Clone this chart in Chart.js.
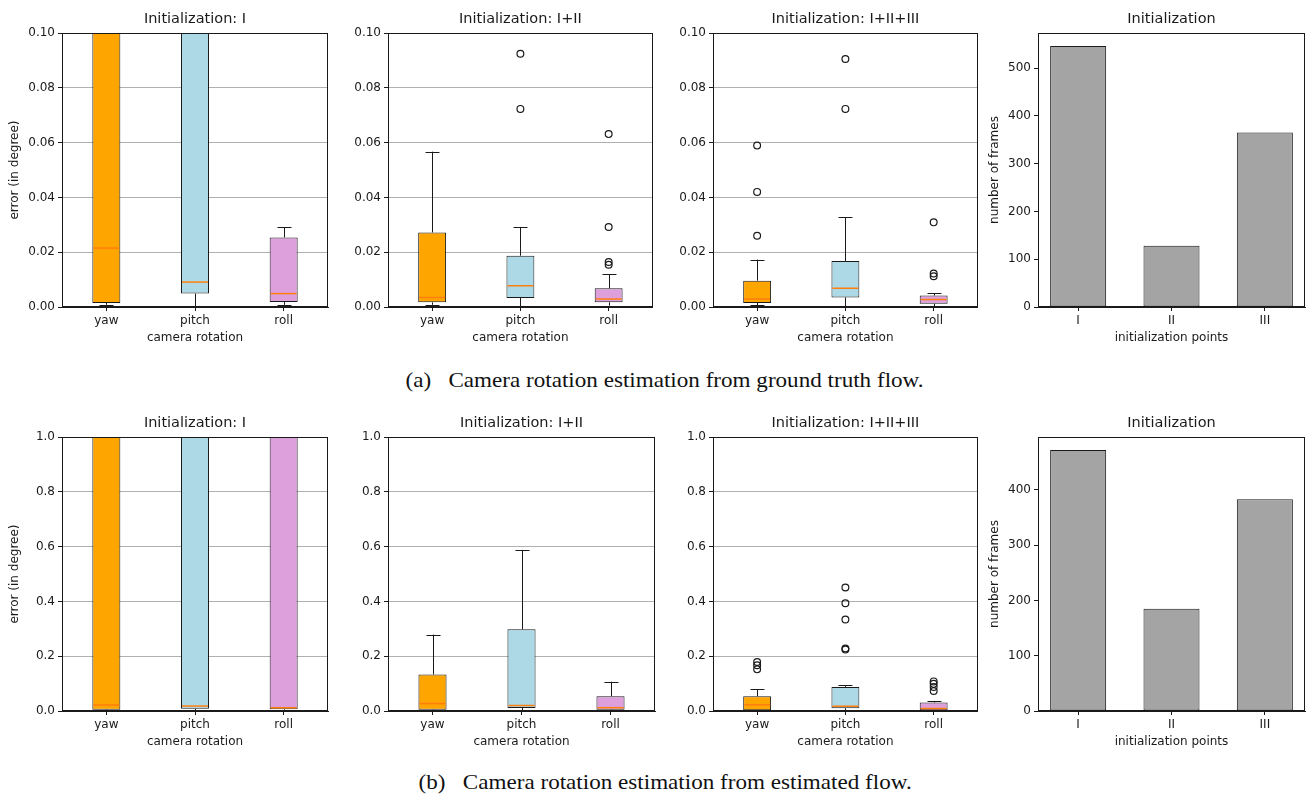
<!DOCTYPE html>
<html>
<head>
<meta charset="utf-8">
<title>Camera rotation estimation</title>
<script src="https://cdn.jsdelivr.net/npm/chart.js@4.4.1/dist/chart.umd.min.js"></script>
<style>
    html, body { margin: 0; padding: 0; background: #fff; }
    #fig { position: relative; width: 1312px; height: 796px; overflow: hidden; }
    #fig canvas { position: absolute; }
    .cap {
        position: absolute; left: 265px; width: 800px; text-align: center;
        font-family: 'Liberation Serif', 'Times New Roman', serif;
        font-size: 21px; line-height: 24px; color: #111; white-space: pre;
    }
    .cap span { display: inline-block; transform: scaleX(1.1); }
</style>
</head>
<body>
<div id="fig">
    <div class="cap" style="top:368px"><span>(a)   Camera rotation estimation from ground truth flow.</span></div>
    <div class="cap" style="top:770px"><span>(b)   Camera rotation estimation from estimated flow.</span></div>
</div>
<script>
/* camera rotation error box plots + init point counts */

const axes = ['yaw', 'pitch', 'roll'];
const boxColors = ['#ffa500', '#add8e6', '#dda0dd'];
const initPoints = ['I', 'II', 'III'];

const gtTicks = [0, 0.02, 0.04, 0.06, 0.08, 0.10];
const estTicks = [0, 0.2, 0.4, 0.6, 0.8, 1.0];
const gtFrameTicks = [0, 100, 200, 300, 400, 500];
const estFrameTicks = [0, 100, 200, 300, 400];

// (a) ground truth flow, per axis: yaw, pitch, roll
// init I: yaw and pitch boxes go past the top of the axis
const gt1Low  = [0.0008, 0.0,    0.0008];
const gt1Q1   = [0.0015, 0.0049, 0.0018];
const gt1Med  = [0.0215, 0.0091, 0.0049];
const gt1Q3   = [0.16,   0.14,   0.0254];
const gt1High = [0.35,   0.30,   0.0292];
const gt1Out  = [[], [], []];

const gt2Low  = [0.0008, 0.0,    0.0005];
const gt2Q1   = [0.0017, 0.0033, 0.0017];
const gt2Med  = [0.0035, 0.0078, 0.0029];
const gt2Q3   = [0.0272, 0.0187, 0.0068];
const gt2High = [0.0567, 0.0292, 0.0119];
const gt2Out  = [[], [0.0924, 0.0723], [0.0631, 0.0292, 0.0164, 0.0154]];

const gt3Low  = [0.0006, 0.0,    0.0003];
const gt3Q1   = [0.0015, 0.0035, 0.0012];
const gt3Med  = [0.0029, 0.0068, 0.0027];
const gt3Q3   = [0.0096, 0.0168, 0.0042];
const gt3High = [0.0173, 0.0328, 0.0051];
const gt3Out  = [[0.0589, 0.0420, 0.0260], [0.0905, 0.0723], [0.0309, 0.0122, 0.0112]];

const gtFrames = [546, 128, 365];

// (b) estimated flow
const est1Low  = [0.002, 0.002, 0.002];
const est1Q1   = [0.005, 0.008, 0.006];
const est1Med  = [0.022, 0.018, 0.012];
const est1Q3   = [1.6,   1.5,   1.4];
const est1High = [3.0,   3.0,   3.0];
const est1Out  = [[], [], []];

const est2Low  = [0.002, 0.002, 0.002];
const est2Q1   = [0.005, 0.011, 0.005];
const est2Med  = [0.027, 0.020, 0.012];
const est2Q3   = [0.133, 0.298, 0.054];
const est2High = [0.279, 0.588, 0.107];
const est2Out  = [[], [], []];

const est3Low  = [0.002, 0.002, 0.002];
const est3Q1   = [0.003, 0.010, 0.003];
const est3Med  = [0.023, 0.017, 0.009];
const est3Q3   = [0.054, 0.088, 0.031];
const est3High = [0.080, 0.094, 0.035];
const est3Out  = [[0.179, 0.167, 0.152], [0.451, 0.393, 0.334, 0.228, 0.224], [0.108, 0.099, 0.088, 0.073]];

const estFrames = [472, 185, 383];

const INK = '#1a1a1a';
Chart.defaults.font.family = "'DejaVu Sans', sans-serif";
Chart.defaults.font.size = 12;
Chart.defaults.color = INK;

// canvas slots: col left, width, y-axis width, right pad
const cols = [
    { left: 0,   width: 331, yW: 62, right: 3 },
    { left: 331, width: 327, yW: 57, right: 3 },
    { left: 658, width: 325, yW: 55, right: 3 },
    { left: 983, width: 329, yW: 55, right: 7 }
];
const rows = [0, 404];
const H = 350;

function makeCanvas(col, row) {
    const c = document.createElement('canvas');
    c.width = cols[col].width; c.height = H;
    c.style.left = cols[col].left + 'px';
    c.style.top = rows[row] + 'px';
    document.getElementById('fig').appendChild(c);
    return c;
}

// all four spines like matplotlib
const frame = {
    id: 'frame',
    afterDraw(chart) {
        const { ctx, chartArea: a } = chart;
        ctx.save();
        ctx.strokeStyle = INK; ctx.lineWidth = 1;
        ctx.strokeRect(Math.round(a.left) + 0.5, Math.round(a.top) + 0.5,
            Math.round(a.right - a.left) - 1, Math.round(a.bottom - a.top) - 1);
        ctx.restore();
    }
};

// whiskers, caps and medians on top of the floating bars
function whiskers(low, q1, med, q3, high) {
    return {
        id: 'whiskers',
        afterDatasetsDraw(chart) {
            const { ctx, chartArea: a, scales: { y } } = chart;
            const bars = chart.getDatasetMeta(0).data;
            ctx.save();
            ctx.beginPath();
            ctx.rect(a.left, a.top, a.right - a.left, a.bottom - a.top);
            ctx.clip();
            bars.forEach((bar, i) => {
                const cx = Math.round(bar.x) + 0.5;
                const half = bar.width / 2, cap = bar.width / 4;
                ctx.strokeStyle = INK; ctx.lineWidth = 1;
                ctx.beginPath();
                ctx.moveTo(cx, y.getPixelForValue(low[i]));
                ctx.lineTo(cx, y.getPixelForValue(q1[i]));
                ctx.moveTo(cx, y.getPixelForValue(q3[i]));
                ctx.lineTo(cx, y.getPixelForValue(high[i]));
                [low[i], high[i]].forEach(v => {
                    const py = Math.round(y.getPixelForValue(v)) + 0.5;
                    ctx.moveTo(cx - cap, py); ctx.lineTo(cx + cap, py);
                });
                ctx.stroke();
                ctx.strokeStyle = '#ff7f0e'; ctx.lineWidth = 1.5;
                ctx.beginPath();
                const my = y.getPixelForValue(med[i]);
                ctx.moveTo(bar.x - half + 1, my); ctx.lineTo(bar.x + half - 1, my);
                ctx.stroke();
            });
            ctx.restore();
        }
    };
}

function baseOptions(col, title) {
    return {
        responsive: false,
        animation: false,
        events: [],
        layout: { padding: { left: 0, right: cols[col].right, top: 11, bottom: 3 } },
        plugins: {
            legend: { display: false },
            tooltip: { enabled: false },
            title: {
                display: true, text: title, fullSize: false, color: INK,
                font: { size: 14.5, weight: 'normal' },
                padding: { top: 0, bottom: 4.6 }
            }
        }
    };
}

function xAxis(text, extra) {
    return Object.assign({
        grid: { display: true, drawOnChartArea: false, offset: false, tickLength: 4, tickColor: INK },
        border: { display: true, color: INK, width: 1 },
        ticks: { color: INK, padding: 3, maxRotation: 0 },
        title: { display: true, text, color: INK, font: { size: 12 }, padding: { top: 0, bottom: 1.5 } },
        afterFit: s => { s.height = 40; }
    }, extra);
}

function yAxis(col, ticks, fmt, max, title, onArea) {
    return {
        type: 'linear', min: 0, max,
        afterBuildTicks: s => { s.ticks = ticks.map(v => ({ value: v })); },
        grid: { display: true, drawOnChartArea: onArea, color: '#b0b0b0', lineWidth: 1, tickLength: 4, tickColor: INK },
        border: { display: true, color: INK, width: 1 },
        ticks: { color: INK, padding: 3, callback: v => v.toFixed(fmt) },
        title: title
            ? { display: true, text: title, color: INK, font: { size: 12 }, padding: { top: col === 0 ? 7.8 : 4.8, bottom: 0 } }
            : { display: false },
        afterFit: s => { s.width = cols[col].yW; }
    };
}

function boxPanel(col, row, title, yTicks, fmt, low, q1, med, q3, high, out, yTitle) {
    const opts = baseOptions(col, title);
    opts.scales = {
        x: xAxis('camera rotation', { type: 'category', offset: true }),
        y: yAxis(col, yTicks, fmt, yTicks[yTicks.length - 1], yTitle, true)
    };
    new Chart(makeCanvas(col, row), {
        type: 'bar',
        data: {
            labels: axes,
            datasets: [
                {
                    type: 'bar',
                    data: axes.map((_, i) => [q1[i], q3[i]]),
                    backgroundColor: boxColors,
                    borderColor: INK, borderWidth: 1, borderSkipped: false,
                    barPercentage: 0.316, categoryPercentage: 1, clip: 0
                },
                {
                    type: 'scatter',
                    data: out.flatMap((vals, i) => vals.map(v => ({ x: axes[i], y: v }))),
                    showLine: false,
                    pointRadius: 3.4, pointBorderWidth: 1.2,
                    pointBorderColor: INK, pointBackgroundColor: 'rgba(0,0,0,0)'
                }
            ]
        },
        options: opts,
        plugins: [frame, whiskers(low, q1, med, q3, high)]
    });
}

function framesPanel(col, row, frames, yTicks) {
    const opts = baseOptions(col, 'Initialization');
    opts.scales = {
        x: xAxis('initialization points', {
            type: 'linear', min: -0.43, max: 2.43, offset: false,
            afterBuildTicks: s => { s.ticks = initPoints.map((_, i) => ({ value: i })); },
            ticks: { color: INK, padding: 3, maxRotation: 0, callback: v => initPoints[v] }
        }),
        y: yAxis(col, yTicks, 0, Math.max(...frames) * 1.05, 'number of frames', false)
    };
    new Chart(makeCanvas(col, row), {
        type: 'bar',
        data: {
            datasets: [{
                data: frames.map((v, i) => ({ x: i, y: v })),
                backgroundColor: '#a4a4a4',
                borderColor: INK, borderWidth: 1, borderSkipped: false,
                barPercentage: 0.6, categoryPercentage: 1
            }]
        },
        options: opts,
        plugins: [frame]
    });
}

boxPanel(0, 0, 'Initialization: I', gtTicks, 2, gt1Low, gt1Q1, gt1Med, gt1Q3, gt1High, gt1Out, 'error (in degree)');
boxPanel(1, 0, 'Initialization: I+II', gtTicks, 2, gt2Low, gt2Q1, gt2Med, gt2Q3, gt2High, gt2Out);
boxPanel(2, 0, 'Initialization: I+II+III', gtTicks, 2, gt3Low, gt3Q1, gt3Med, gt3Q3, gt3High, gt3Out);
framesPanel(3, 0, gtFrames, gtFrameTicks);

boxPanel(0, 1, 'Initialization: I', estTicks, 1, est1Low, est1Q1, est1Med, est1Q3, est1High, est1Out, 'error (in degree)');
boxPanel(1, 1, 'Initialization: I+II', estTicks, 1, est2Low, est2Q1, est2Med, est2Q3, est2High, est2Out);
boxPanel(2, 1, 'Initialization: I+II+III', estTicks, 1, est3Low, est3Q1, est3Med, est3Q3, est3High, est3Out);
framesPanel(3, 1, estFrames, estFrameTicks);
</script>
</body>
</html>
